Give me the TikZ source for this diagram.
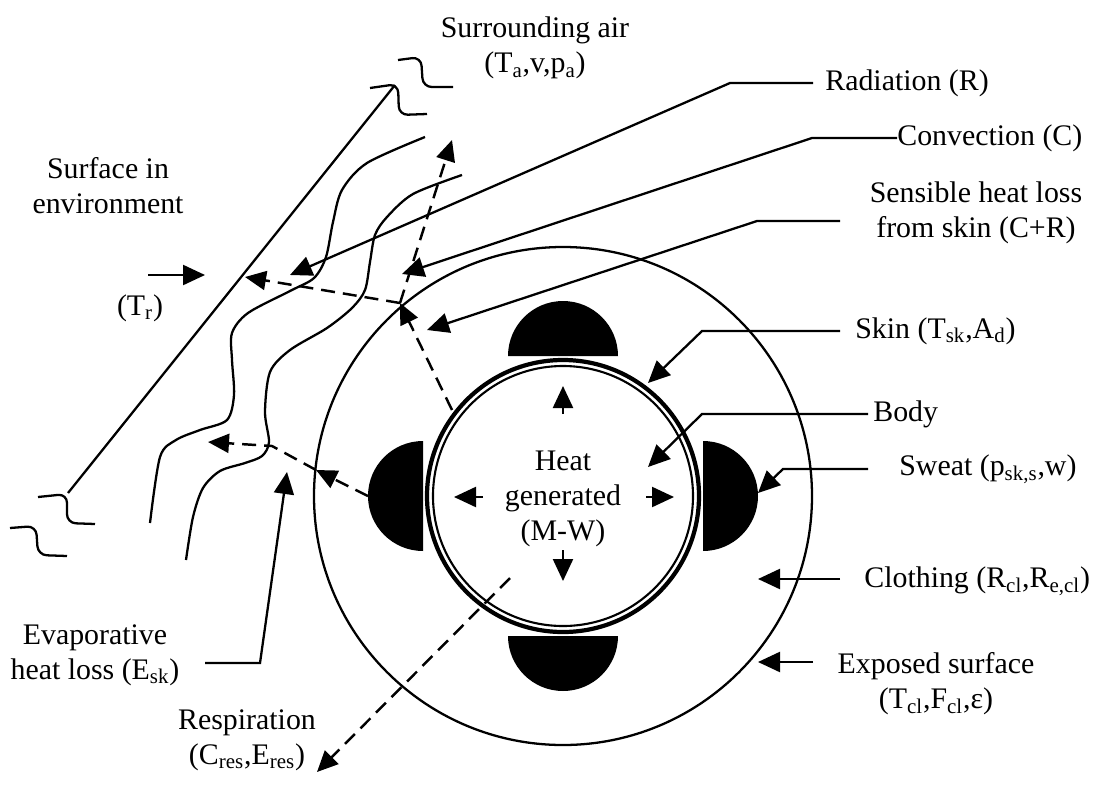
\documentclass[tikz,border=0pt]{standalone}
\usepackage{fontspec}
\setmainfont{Liberation Serif}
\usepackage{tikz}
\usetikzlibrary{arrows.meta, positioning, calc}

\tikzset{
  lbl/.style={font=\fontsize{17}{20}\selectfont, inner sep=0pt, align=center},
  thinline/.style={line width=1.3pt},
  conn/.style={line width=1.3pt, -{Triangle[length=0.44cm,width=0.4cm]}},
  flow/.style={line width=1.4pt, dash pattern=on 0.28cm off 0.16cm, -{Triangle[length=0.42cm,width=0.38cm]}},
}

\begin{document}
\begin{tikzpicture}[x=0.02cm, y=-0.02cm]
  \useasboundingbox (0,0) rectangle (1096,792);

  % Body, skin and clothing
  \coordinate (ctr) at (563,496);
  \draw[thinline] (ctr) circle[radius=249];
  \draw[line width=2.4pt] (ctr) circle[radius=136];
  \draw[line width=1.2pt] (ctr) circle[radius=130];

  % Sweat drops
  \fill (508,356) arc[start angle=180, end angle=360, radius=55] -- cycle;
  \fill (508,636) arc[start angle=180, end angle=0, radius=55] -- cycle;
  \fill (423,441) arc[start angle=270, end angle=90, radius=55] -- cycle;
  \fill (703,441) arc[start angle=-90, end angle=90, radius=55] -- cycle;

  % Heat generated
  \node[lbl] (heat) at (563,499) {Heat\\generated\\(M-W)};
  \draw[conn] ($(ctr)+(0,-82)$) -- ($(ctr)+(0,-110)$);
  \draw[conn] ($(ctr)+(0,54)$) -- ($(ctr)+(0,85)$);
  \draw[conn] ($(ctr)+(-80,1)$) -- ($(ctr)+(-109,1)$);
  \draw[conn] ($(ctr)+(83,1)$) -- ($(ctr)+(111,1)$);

  % Surface in environment
  \coordinate (surftop) at (395,85);
  \coordinate (surfbot) at (68,493);
  \draw[thinline] (surfbot) -- (surftop);
  \draw[thinline, rounded corners=5] (370,88) -- (398,84) -- (399,115) -- (427,114);
  \draw[thinline, rounded corners=5] (398,60) -- (421,57) -- (423,87) -- (453,87);
  \draw[thinline, rounded corners=5] (38,497) -- (67,494) -- (67,523) -- (95,524);
  \draw[thinline, rounded corners=5] (10,528) -- (36,526) -- (38,555) -- (67,556);

  % Boundary layers of air
  \draw[thinline] plot[smooth] coordinates {(425,137) (367,163) (342,190) (333,222) (326,257) (314,278) (290,291) (248,313) (232,333) (232,360) (234,395) (227,420) (200,430) (176,440) (160,457) (150,523)};
  \draw[thinline] plot[smooth] coordinates {(462,175) (413,194) (387,217) (375,235) (370,262) (365,290) (352,308) (327,328) (290,350) (270,372) (265,412) (269,442) (262,456) (245,463) (220,471) (203,488) (193,517) (186,560)};

  % Heat flows
  \coordinate (skinpt) at (452,410);
  \coordinate (clopt) at (400,303);
  \coordinate (surfpt) at (245,277);
  \coordinate (airpt) at (452,140);
  \draw[flow] (skinpt) -- (clopt);
  \draw[flow] (clopt) -- (surfpt);
  \draw[flow] (clopt) -- (airpt);
  \coordinate (sweatL) at (368,496);
  \coordinate (evapcl) at (316,470);
  \coordinate (evapbend) at (272,446);
  \coordinate (evapend) at (208,442);
  \draw[flow] (sweatL) -- (evapcl);
  \draw[flow] (evapcl) -- (evapbend) -- (evapend);
  \coordinate (mouth) at (510,578);
  \coordinate (resptip) at (317,772);
  \draw[flow] (mouth) -- (resptip);

  % Labels
  \node[lbl] (air) at (535,48) {Surrounding air\\(T\textsubscript{a},v,p\textsubscript{a})};
  \node[lbl] (surf) at (108,186) {Surface in\\environment};
  \node[lbl] (tr) at (140,308) {(T\textsubscript{r})};
  \node[lbl, anchor=west] (rad) at (825,83) {Radiation (R)};
  \node[lbl, anchor=west] (conv) at (897,138) {Convection (C)};
  \node[lbl] (sens) at (976,213) {Sensible heat loss\\from skin (C+R)};
  \node[lbl, anchor=west] (skin) at (855,331) {Skin (T\textsubscript{sk},A\textsubscript{d})};
  \node[lbl, anchor=west] (body) at (873,414) {Body};
  \node[lbl, anchor=west] (sweat) at (899,469) {Sweat (p\textsubscript{sk,s},w)};
  \node[lbl, anchor=west] (cloth) at (864,581) {Clothing (R\textsubscript{cl},R\textsubscript{e,cl})};
  \node[lbl] (expo) at (936,684) {Exposed surface\\(T\textsubscript{cl},F\textsubscript{cl},ε)};
  \node[lbl] (evap) at (95,655) {Evaporative\\heat loss (E\textsubscript{sk})};
  \node[lbl] (resp) at (247,740) {Respiration\\(C\textsubscript{res},E\textsubscript{res})};

  % Label connectors
  \coordinate (trA) at (148,275);   \coordinate (trB) at (205,275);
  \draw[conn] (trA) -- (trB);
  \coordinate (radA) at (813,83);   \coordinate (radB) at (730,83);   \coordinate (radC) at (290,275);
  \draw[conn] (radA) -- (radB) -- (radC);
  \coordinate (convA) at (897,138); \coordinate (convB) at (812,138); \coordinate (convC) at (402,274);
  \draw[conn] (convA) -- (convB) -- (convC);
  \coordinate (sensA) at (840,221); \coordinate (sensB) at (757,221); \coordinate (sensC) at (427,330);
  \draw[conn] (sensA) -- (sensB) -- (sensC);
  \coordinate (skinA) at (840,331); \coordinate (skinB) at (702,331); \coordinate (skinC) at (648,383);
  \draw[conn] (skinA) -- (skinB) -- (skinC);
  \coordinate (bodyA) at (868,414); \coordinate (bodyB) at (702,414); \coordinate (bodyC) at (648,467);
  \draw[conn] (bodyA) -- (bodyB) -- (bodyC);
  \coordinate (swA) at (868,469);   \coordinate (swB) at (783,469);   \coordinate (swC) at (758,493);
  \draw[conn] (swA) -- (swB) -- (swC);
  \coordinate (clA) at (840,579);   \coordinate (clB) at (758,579);
  \draw[conn] (clA) -- (clB);
  \coordinate (exA) at (813,662);   \coordinate (exB) at (758,662);
  \draw[conn] (exA) -- (exB);
  \coordinate (evA) at (205,663);   \coordinate (evB) at (260,663);   \coordinate (evC) at (287,472);
  \draw[conn] (evA) -- (evB) -- (evC);
\end{tikzpicture}
\end{document}
